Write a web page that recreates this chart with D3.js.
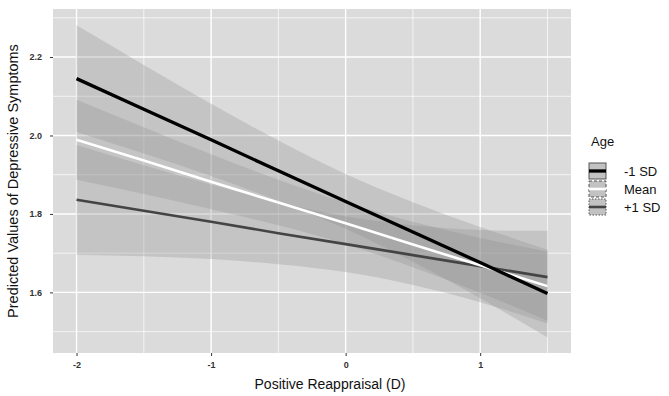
<!DOCTYPE html>
<html>
<head>
<meta charset="utf-8">
<script src="https://cdn.jsdelivr.net/npm/d3@7"></script>
<style>
  body { margin: 0; background: #fff; }
  text { font-family: "Liberation Sans", Arial, sans-serif; }
</style>
</head>
<body>
<svg width="669" height="396"></svg>
<script>
// predictor values where the fitted lines / bands were read
var xs = [-2, -1.5, -1, -0.5, 0, 0.5, 1, 1.5];

// -1 SD
var lowFit   = [2.145, 2.067, 1.989, 1.910, 1.832, 1.754, 1.676, 1.597];
var lowLower = [2.009, 1.954, 1.897, 1.833, 1.762, 1.678, 1.585, 1.485];
var lowUpper = [2.281, 2.180, 2.081, 1.987, 1.902, 1.830, 1.767, 1.709];
// Mean
var meanFit   = [1.989, 1.936, 1.882, 1.829, 1.776, 1.722, 1.669, 1.616];
var meanLower = [1.887, 1.851, 1.812, 1.771, 1.723, 1.664, 1.599, 1.528];
var meanUpper = [2.091, 2.021, 1.952, 1.887, 1.829, 1.780, 1.739, 1.704];
// +1 SD
var highFit   = [1.836, 1.808, 1.780, 1.751, 1.723, 1.695, 1.667, 1.639];
var highLower = [1.696, 1.692, 1.685, 1.672, 1.652, 1.619, 1.575, 1.521];
var highUpper = [1.976, 1.924, 1.875, 1.830, 1.794, 1.771, 1.759, 1.757];

var groups = ['-1 SD', 'Mean', '+1 SD'];
var xTicks = [-2, -1, 0, 1];
var yTicks = [1.6, 1.8, 2.0, 2.2];

var series = [
  {name: '-1 SD', fit: lowFit, lo: lowLower, hi: lowUpper},
  {name: 'Mean', fit: meanFit, lo: meanLower, hi: meanUpper},
  {name: '+1 SD', fit: highFit, lo: highLower, hi: highUpper}
];
var lineColor = d3.scaleOrdinal().domain(groups).range(['#000000', '#ffffff', '#444444']);
var lineWidth = d3.scaleOrdinal().domain(groups).range([3.3, 2.6, 2.6]);

var svg = d3.select('svg');
// panel box (note: "top" is taken by window.top)
var pL = 53, pR = 571, pT = 9, pB = 353;

var x = d3.scaleLinear().domain([-2.175, 1.675]).range([pL, pR]);
var y = d3.scaleLinear().domain([1.4455, 2.3225]).range([pB, pT]);

// panel
svg.append('rect')
  .attr('x', pL).attr('y', pT)
  .attr('width', pR - pL).attr('height', pB - pT)
  .attr('fill', '#dbdbdb');

// grid: minor then major
var g = svg.append('g');
g.selectAll('line.xminor').data([-1.5, -0.5, 0.5, 1.5]).enter().append('line')
  .attr('x1', d => x(d)).attr('x2', d => x(d)).attr('y1', pT).attr('y2', pB)
  .attr('stroke', '#fff').attr('stroke-width', 0.7);
g.selectAll('line.yminor').data([1.5, 1.7, 1.9, 2.1, 2.3]).enter().append('line')
  .attr('y1', d => y(d)).attr('y2', d => y(d)).attr('x1', pL).attr('x2', pR)
  .attr('stroke', '#fff').attr('stroke-width', 0.7);
g.selectAll('line.xmajor').data(xTicks).enter().append('line')
  .attr('x1', d => x(d)).attr('x2', d => x(d)).attr('y1', pT).attr('y2', pB)
  .attr('stroke', '#fff').attr('stroke-width', 1.4);
g.selectAll('line.ymajor').data(yTicks).enter().append('line')
  .attr('y1', d => y(d)).attr('y2', d => y(d)).attr('x1', pL).attr('x2', pR)
  .attr('stroke', '#fff').attr('stroke-width', 1.4);

// confidence bands
var area = d3.area()
  .x((d, i) => x(xs[i]))
  .y0(d => y(d[0]))
  .y1(d => y(d[1]))
  .curve(d3.curveNatural);

svg.append('g').selectAll('path')
  .data(series).enter().append('path')
  .attr('d', s => area(s.lo.map((v, i) => [v, s.hi[i]])))
  .attr('fill', '#8c8c8c')
  .attr('fill-opacity', 0.29);

// fitted lines, -1 SD drawn last so it sits on top
var line = d3.line().x((d, i) => x(xs[i])).y(d => y(d));
svg.append('g').selectAll('path')
  .data(series.slice().reverse()).enter().append('path')
  .attr('d', s => line(s.fit))
  .attr('fill', 'none')
  .attr('stroke', s => lineColor(s.name))
  .attr('stroke-width', s => lineWidth(s.name));

// axes
var xAxis = svg.append('g')
  .attr('transform', 'translate(0,' + pB + ')')
  .call(d3.axisBottom(x).tickValues(xTicks).tickSize(3).tickPadding(6).tickFormat(d => String(d)));
var yAxis = svg.append('g')
  .attr('transform', 'translate(' + pL + ',0)')
  .call(d3.axisLeft(y).tickValues(yTicks).tickSize(3).tickPadding(8).tickFormat(d => d.toFixed(1)));
[xAxis, yAxis].forEach(a => {
  a.select('.domain').remove();
  a.selectAll('.tick line').attr('stroke', '#333');
  a.selectAll('.tick text').attr('fill', '#333').style('font-size', '9px').style('font-weight', 'bold');
});

// axis titles
svg.append('text')
  .attr('x', 330).attr('y', 389)
  .attr('text-anchor', 'middle')
  .style('font-size', '14px')
  .attr('fill', '#111')
  .text('Positive Reappraisal (D)');
svg.append('text')
  .attr('transform', 'translate(18,' + ((pT + pB) / 2) + ') rotate(-90)')
  .attr('text-anchor', 'middle')
  .style('font-size', '14.5px')
  .attr('fill', '#111')
  .text('Predicted Values of Depressive Symptoms');

// legend
var legend = svg.append('g').attr('transform', 'translate(588,0)');
legend.append('text')
  .attr('x', 3).attr('y', 146)
  .style('font-size', '13px').attr('fill', '#111')
  .text('Age');
var dash = d3.scaleOrdinal().domain(groups).range(['none', '3,2', '1.5,1.5']);
var keys = legend.selectAll('g.key').data(groups).enter().append('g')
  .attr('class', 'key')
  .attr('transform', (d, i) => 'translate(0,' + (162 + i * 18) + ')');
keys.append('rect')
  .attr('x', 1).attr('y', 1).attr('width', 17).attr('height', 16)
  .attr('fill', '#c2c2c2')
  .attr('stroke', '#555').attr('stroke-width', 1)
  .attr('stroke-dasharray', d => dash(d));
keys.append('line')
  .attr('x1', 1).attr('x2', 18).attr('y1', 9).attr('y2', 9)
  .attr('stroke', d => lineColor(d))
  .attr('stroke-width', d => lineWidth(d));
keys.append('text')
  .attr('x', 36).attr('y', 14)
  .style('font-size', '13px').attr('fill', '#111')
  .text(d => d);
</script>
</body>
</html>
